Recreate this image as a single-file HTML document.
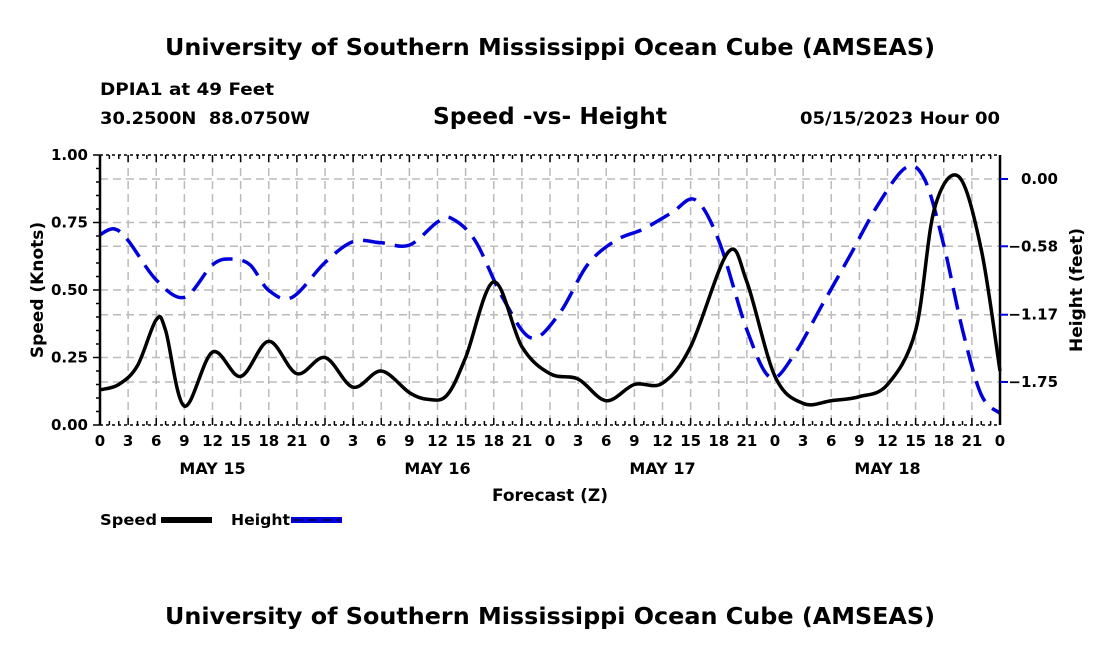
<!DOCTYPE html>
<html><head><meta charset="utf-8"><style>
html,body{margin:0;padding:0;background:#fff;}
svg{display:block;font-family:"DejaVu Sans","Liberation Sans",sans-serif;font-weight:bold;}
</style></head><body>
<svg id="chart" width="1100" height="650" viewBox="0 0 1100 650">
<text x="165" y="55" font-size="23" textLength="770" lengthAdjust="spacingAndGlyphs">University of Southern Mississippi Ocean Cube (AMSEAS)</text>
<text x="100" y="95" font-size="17" textLength="174" lengthAdjust="spacingAndGlyphs">DPIA1 at 49 Feet</text>
<text x="100" y="124" font-size="17" textLength="210" lengthAdjust="spacingAndGlyphs" xml:space="preserve">30.2500N  88.0750W</text>
<text x="433" y="124" font-size="23" textLength="234" lengthAdjust="spacingAndGlyphs">Speed -vs- Height</text>
<text x="800" y="124" font-size="17" textLength="200" lengthAdjust="spacingAndGlyphs">05/15/2023 Hour 00</text>
<text transform="translate(43,290) rotate(-90)" font-size="17" text-anchor="middle">Speed (Knots)</text>
<text transform="translate(1082,290) rotate(-90)" font-size="17" text-anchor="middle">Height (feet)</text>
<text x="550" y="501" font-size="17" text-anchor="middle">Forecast (Z)</text>
<text x="100" y="525" font-size="15" textLength="57" lengthAdjust="spacingAndGlyphs">Speed</text>
<rect x="161" y="517" width="51" height="6" fill="#000"/>
<text x="231" y="525" font-size="15" textLength="59" lengthAdjust="spacingAndGlyphs">Height</text>
<rect x="291" y="517" width="51" height="6" fill="#0000dd"/>
<line x1="294" y1="520" x2="340" y2="520" stroke="#000" stroke-width="1" stroke-dasharray="9 5"/>
<text x="165" y="624" font-size="23" textLength="770" lengthAdjust="spacingAndGlyphs">University of Southern Mississippi Ocean Cube (AMSEAS)</text>
<g id="grid"></g><g id="series"></g><g id="axes"></g>
</svg>
<script>
const speedHours=[0,2,4,6,7,9,12,15,18,21,24,27,30,33,35,37,39,42,45,48,51,54,57,60,63,67,69,72,75,78,81,84,87,89,91.6,94,96];
const speedValues=[0.13,0.15,0.22,0.39,0.35,0.07,0.27,0.18,0.31,0.19,0.25,0.14,0.20,0.12,0.095,0.11,0.25,0.53,0.29,0.19,0.17,0.09,0.15,0.155,0.29,0.64,0.53,0.18,0.08,0.09,0.105,0.15,0.35,0.80,0.92,0.65,0.20];
const heightHours=[0,1.5,3,6,9,12,14,16,18,20.5,24,27,30,33,36,37.5,40,43,46,49,52,55,58,61,63.5,66,69,71.5,74,77,80,83,86,88,90,92,94,96];
const heightValues=[-0.48,-0.43,-0.53,-0.87,-1.02,-0.74,-0.69,-0.74,-0.96,-1.02,-0.72,-0.54,-0.55,-0.57,-0.37,-0.34,-0.53,-1.03,-1.37,-1.16,-0.74,-0.53,-0.43,-0.29,-0.18,-0.53,-1.30,-1.71,-1.52,-1.09,-0.66,-0.22,0.10,-0.01,-0.57,-1.30,-1.86,-2.02];
const speedTicks=[0,0.25,0.5,0.75,1.0];
const speedTickLabels=["0.00","0.25","0.50","0.75","1.00"];
const heightTicks=[0,-0.58,-1.17,-1.75];
const heightTickLabels=["0.00","\u22120.58","\u22121.17","\u22121.75"];
const dayLabels=["MAY 15","MAY 16","MAY 17","MAY 18"];

const NS="http://www.w3.org/2000/svg";
const L=100,R=1000,T=155,B=425;
const xs=h=>L+(R-L)*h/96;
const ys=v=>B-(B-T)*v;
const yh=v=>179-116*v;
function mk(tag,attrs,parent){const e=document.createElementNS(NS,tag);for(const k in attrs)e.setAttribute(k,attrs[k]);document.getElementById(parent).appendChild(e);return e;}
for(let h=3;h<96;h+=3){const g=mk('line',{x1:xs(h),x2:xs(h),y1:T,y2:B,stroke:'#bbb','stroke-width':1.5,'stroke-dasharray':'8 5'},'grid');

}
speedTicks.forEach(v=>{if(v>0&&v<1){const g=mk('line',{x1:L,x2:R,y1:ys(v),y2:ys(v),stroke:'#bbb','stroke-width':1.5,'stroke-dasharray':'8 5'},'grid');

}});
heightTicks.forEach(v=>{const g=mk('line',{x1:L,x2:R,y1:yh(v),y2:yh(v),stroke:'#bbb','stroke-width':1.5,'stroke-dasharray':'8 5'},'grid');

});
function path(hs,vs,yf){const p=hs.map((h,i)=>[xs(h),yf(vs[i])]);let d='M'+p[0][0]+','+p[0][1];
for(let i=0;i<p.length-1;i++){const p0=p[Math.max(0,i-1)],p1=p[i],p2=p[i+1],p3=p[Math.min(p.length-1,i+2)];
const c1=[p1[0]+(p2[0]-p0[0])/6,p1[1]+(p2[1]-p0[1])/6],c2=[p2[0]-(p3[0]-p1[0])/6,p2[1]-(p3[1]-p1[1])/6];
d+=' C'+c1+' '+c2+' '+p2;}return d;}
const hp=mk('path',{d:path(heightHours,heightValues,yh),fill:'none',stroke:'#0000dd','stroke-width':3.5,'stroke-dasharray':'22 10'},'series');


const sp=mk('path',{d:path(speedHours,speedValues,ys),fill:'none',stroke:'#000','stroke-width':3.5},'series');


[[L,T,L,B],[R,T,R,B],[L,T,R,T],[L,B,R,B]].forEach((c,i)=>{const a=mk('line',{x1:c[0],y1:c[1],x2:c[2],y2:c[3],stroke:'#000','stroke-width':i<2?2.5:1.5,'stroke-dasharray':i<2?'none':'3 3'},'axes');

});
for(let h=0;h<=96;h++){const len=h%3==0?7:4;
const t1=mk('line',{x1:xs(h),x2:xs(h),y1:B,y2:B-len,stroke:'#000','stroke-width':1.5},'axes');


const t2=mk('line',{x1:xs(h),x2:xs(h),y1:T,y2:T+len,stroke:'#000','stroke-width':1.5},'axes');


if(h%3==0){const tx=mk('text',{x:xs(h),y:B+21,'font-size':15,'text-anchor':'middle'},'axes');tx.textContent=String(h%24);

}}
dayLabels.forEach((s,i)=>{const tx=mk('text',{x:xs(12+24*i),y:B+49,'font-size':16,'text-anchor':'middle'},'axes');tx.textContent=s;

});
for(let v=0;v<=1.0001;v+=0.05){const big=Math.abs(v*4-Math.round(v*4))<1e-6;
const t=mk('line',{x1:L,x2:L-(big?7:4),y1:ys(v),y2:ys(v),stroke:'#000','stroke-width':1.5},'axes');

}
speedTicks.forEach((v,i)=>{const tx=mk('text',{x:L-12,y:ys(v)+5,'font-size':15,'text-anchor':'end'},'axes');tx.textContent=speedTickLabels[i];

});
heightTicks.forEach((v,i)=>{const t=mk('line',{x1:R,x2:R+8,y1:yh(v),y2:yh(v),stroke:'#0000dd','stroke-width':2},'axes');


const tx=mk('text',{x:1058,y:yh(v)+5,'font-size':15,'text-anchor':'end'},'axes');tx.textContent=heightTickLabels[i];

});
</script>
</body></html>
